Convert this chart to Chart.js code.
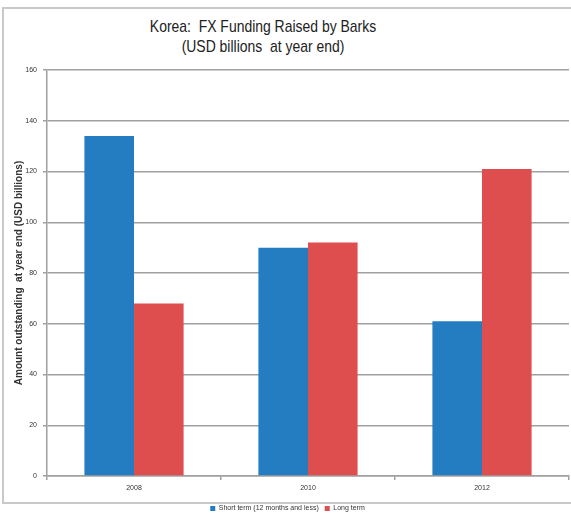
<!DOCTYPE html>
<html>
<head>
<meta charset="utf-8">
<script src="https://cdn.jsdelivr.net/npm/chart.js@4"></script>
<style>
  html, body { margin: 0; padding: 0; background: #fff; overflow: hidden; }
  #wrap { position: relative; width: 571px; height: 518px; overflow: hidden; }
  #frame { position: absolute; left: 2px; top: 7px; width: 620px; height: 493px; border: 2px solid #c9c9c9; }
  #title { position: absolute; left: 0; top: 17px; width: 526px; text-align: center;
           font-family: 'Liberation Sans', Arial, sans-serif;
           font-size: 17px; line-height: 20px; color: #222;
           transform: scaleX(0.82); transform-origin: 263px 0; }
  canvas { position: absolute; left: 0; top: 0; }
</style>
</head>
<body>
<div id="wrap">
  <div id="frame"></div>
  <div id="title">Korea:&nbsp; FX Funding Raised by Barks<br>(USD billions&nbsp; at year end)</div>
  <canvas id="chart" width="571" height="522"></canvas>
</div>
<script>
const years = ['2008', '2010', '2012'];
const short_term = [134, 90, 61];
const long_term = [68, 92, 121];
const series_names = ['Short term (12 months and less)', 'Long term'];
const y_title = 'Amount outstanding  at year end (USD billions)';

const chart_el = document.getElementById('chart');

new Chart(chart_el, {
    type: 'bar',
    data: {
        labels: years,
        datasets: [{
            label: series_names[0],
            data: short_term,
            backgroundColor: 'rgb(35, 125, 192)',
            borderWidth: 0,
            categoryPercentage: 0.57,
            barPercentage: 1.0
        }, {
            label: series_names[1],
            data: long_term,
            backgroundColor: 'rgb(222, 78, 78)',
            borderWidth: 0,
            categoryPercentage: 0.57,
            barPercentage: 1.0
        }]
    },
    options: {
        responsive: false,
        animation: false,
        layout: {
            padding: { left: 6, right: 2, top: 70, bottom: 0 }
        },
        plugins: {
            title: { display: false },
            tooltip: { enabled: false },
            legend: {
                position: 'bottom',
                labels: {
                    boxWidth: 5,
                    boxHeight: 5,
                    padding: 6,
                    color: '#333',
                    font: { size: 7, family: 'Arial, sans-serif' }
                }
            }
        },
        scales: {
            x: {
                grid: {
                    drawOnChartArea: false,
                    drawTicks: true,
                    tickLength: 4,
                    color: '#a0a0a0',
                    lineWidth: 1.5
                },
                border: { color: '#a0a0a0', width: 1.5 },
                ticks: {
                    color: '#333',
                    padding: 4,
                    font: { size: 7, family: 'Arial, sans-serif' }
                },
                afterFit: function (scale) { scale.height = 23; }
            },
            y: {
                min: 0,
                max: 160,
                ticks: {
                    stepSize: 20,
                    color: '#333',
                    padding: 6,
                    font: { size: 7, family: 'Arial, sans-serif' }
                },
                grid: {
                    color: '#a0a0a0',
                    lineWidth: 1.5,
                    tickLength: 4
                },
                border: { color: '#a0a0a0', width: 1.5 },
                title: {
                    display: true,
                    text: y_title,
                    color: '#333',
                    padding: { top: 7, bottom: 0 },
                    font: { size: 10, weight: 'bold', family: 'Arial, sans-serif' }
                },
                afterFit: function (scale) { scale.width = 41; }
            }
        }
    }
});
</script>
</body>
</html>
